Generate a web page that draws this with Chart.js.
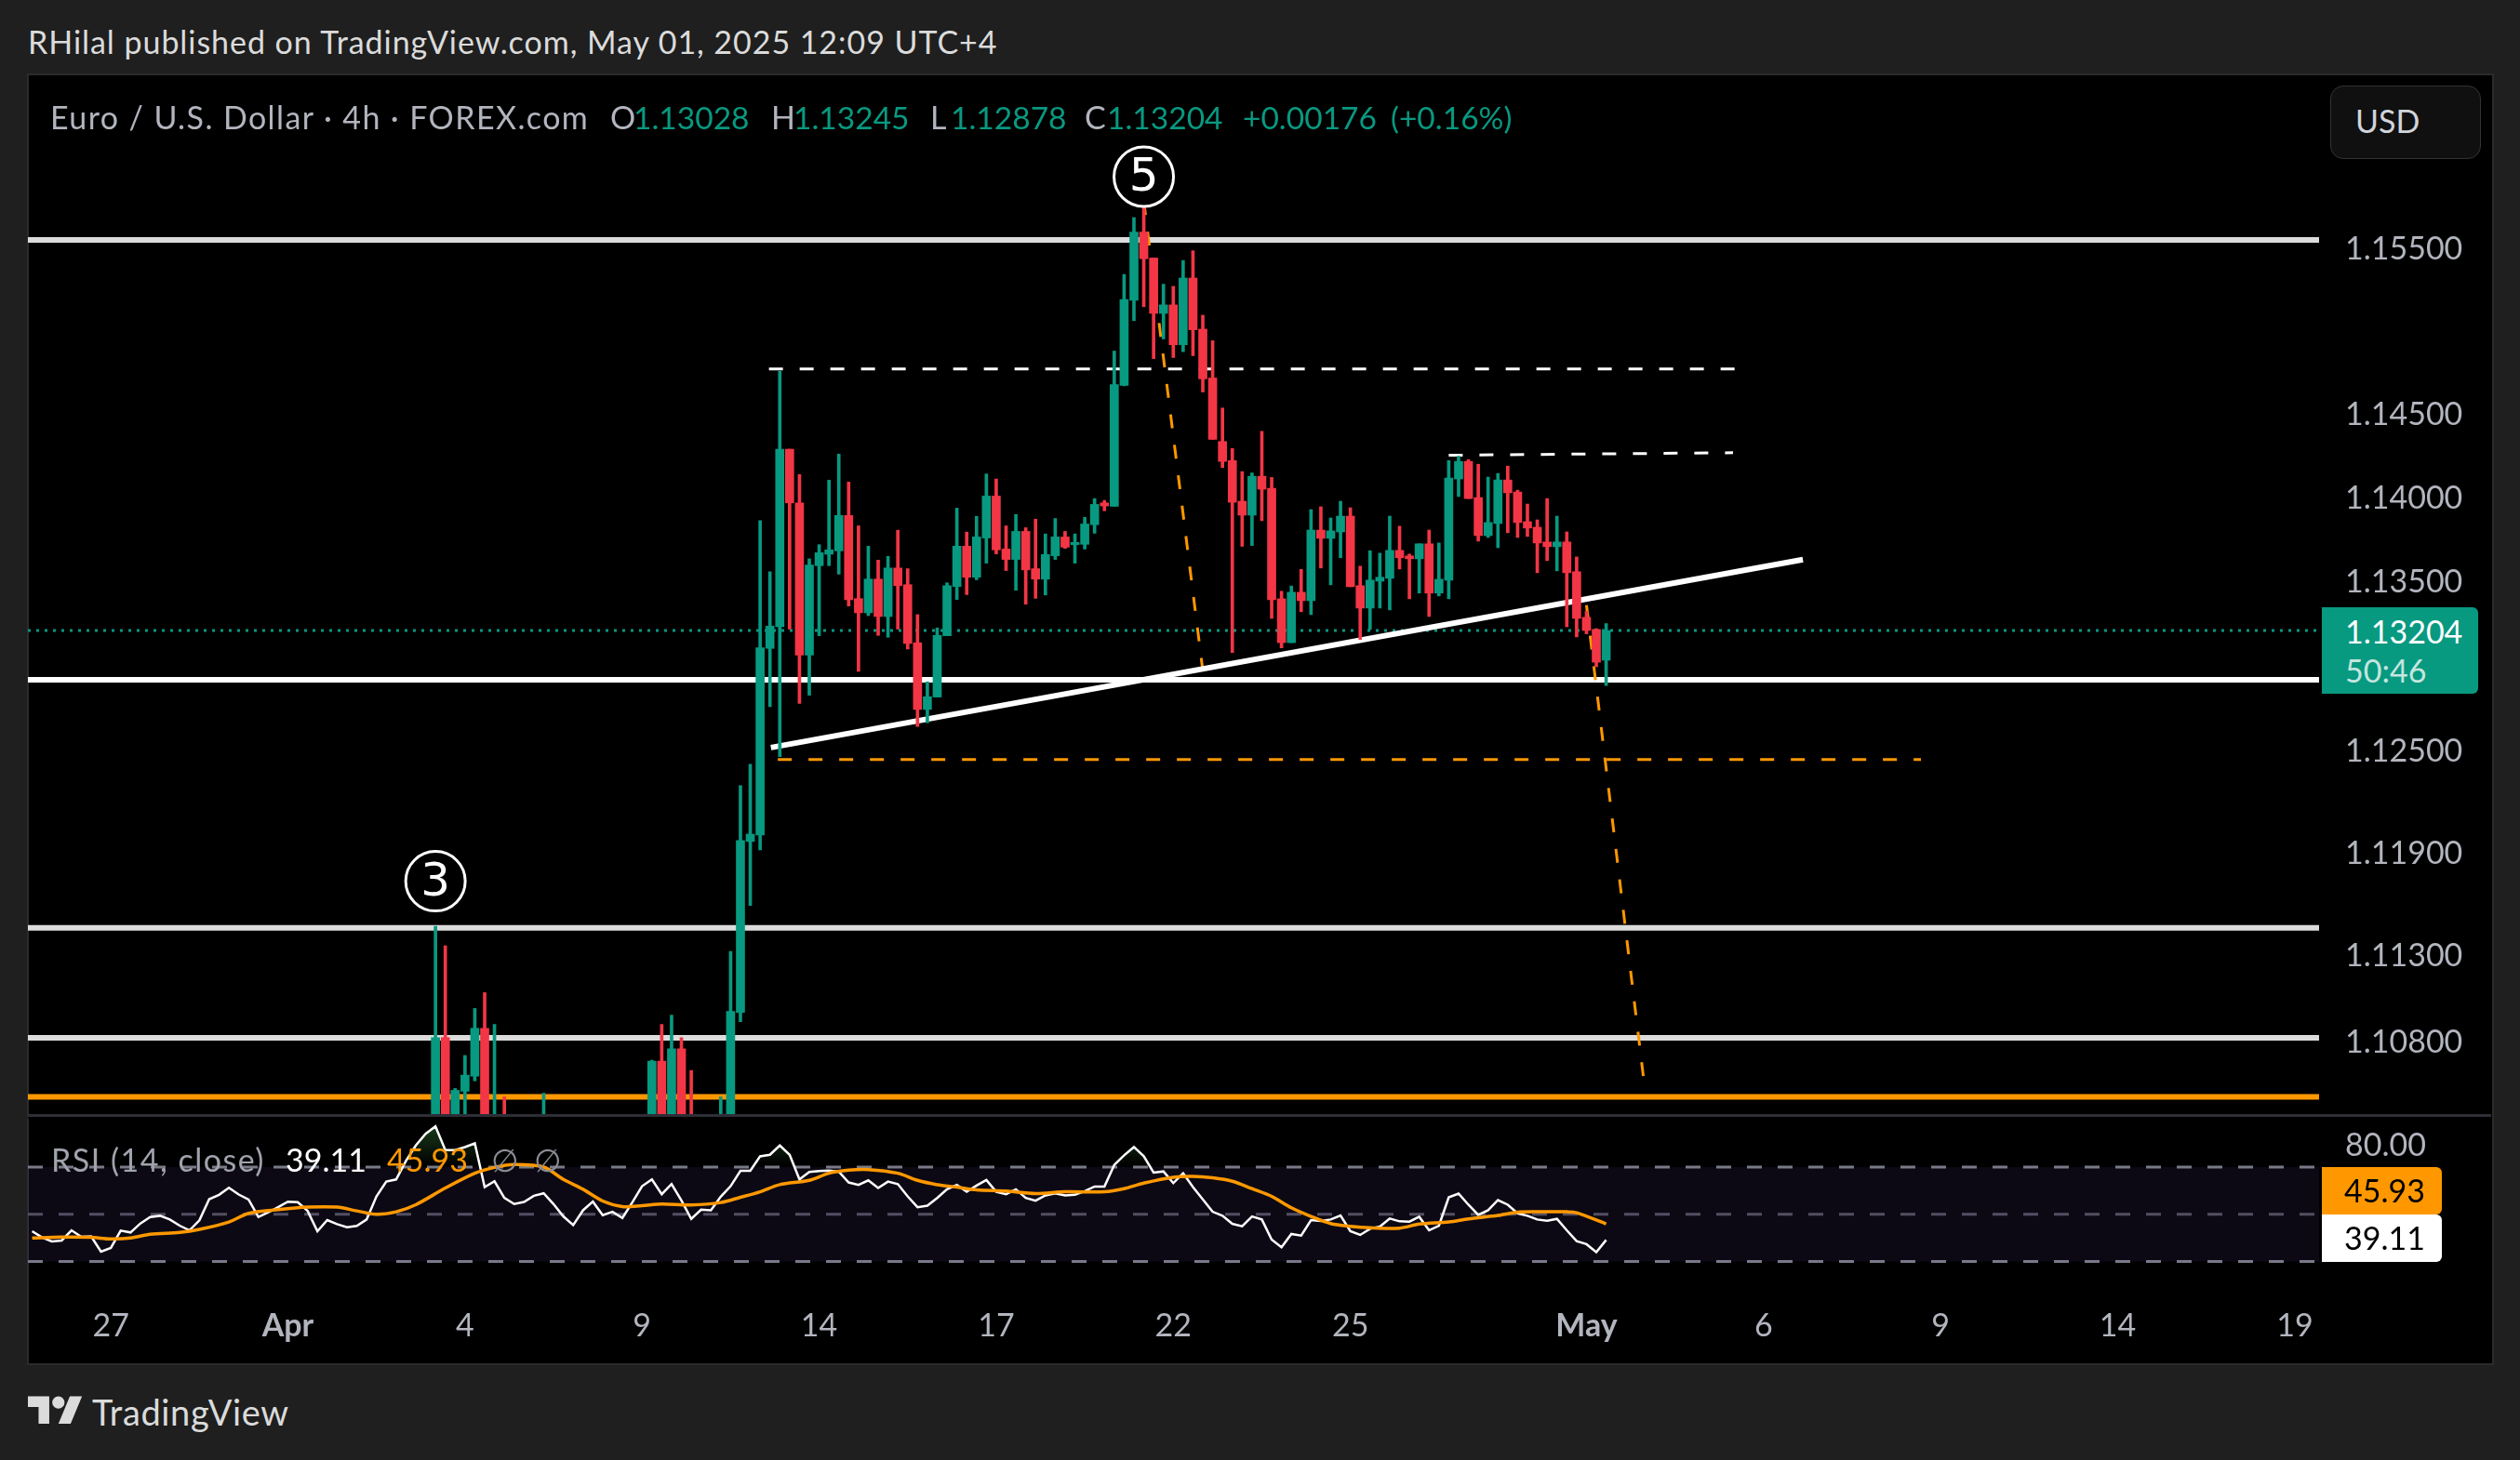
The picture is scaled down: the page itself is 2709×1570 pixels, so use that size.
<!DOCTYPE html>
<html>
<head>
<meta charset="utf-8">
<title>EURUSD 4h</title>
<script src="https://cdn.jsdelivr.net/npm/chart.js@4/dist/chart.umd.min.js"></script>
<style>
  html, body { margin: 0; padding: 0; background: #1f1f1f; overflow: hidden; }
  body { width: 2709px; height: 1570px; position: relative; font-family: Lato, sans-serif; font-size: 34px; color: #b2b5be; }
  .t { position: absolute; white-space: nowrap; line-height: 40px; }
  .ls { letter-spacing: 1.4px; }
  .g { color: #089981; font-size: 33.5px; }
  #panel { position: absolute; left: 29px; top: 79px; width: 2648px; height: 1385px; background: #000; border: 2px solid #2b2b2b; }
  #priceCanvas { position: absolute; left: 30px; top: 81px; }
  #rsiCanvas { position: absolute; left: 30px; top: 1203px; }
  #divider { position: absolute; left: 30px; top: 1198px; width: 2648px; height: 3px; background: #2e2e38; }
  #mask { position: absolute; left: 30px; top: 1201px; width: 2648px; height: 2px; background: #000; }
  #usd { position: absolute; left: 2505px; top: 92px; width: 160px; height: 77px; border: 1px solid #333; border-radius: 14px; background: #101010; }
  .box { position: absolute; left: 2496px; width: 129px; height: 51px; }
</style>
</head>
<body>
<div class="t" id="publisher" style="left:30px;top:25px;color:#dbdbdb;letter-spacing:0.95px">RHilal published on TradingView.com, May 01, 2025 12:09 UTC+4</div>
<div id="panel"></div>
<canvas id="priceCanvas" width="2648" height="1119"></canvas>
<canvas id="rsiCanvas" width="2648" height="263"></canvas>
<div id="mask"></div>
<div id="divider"></div>

<div class="t ls" style="left:54px;top:106px">Euro / U.S. Dollar · 4h · FOREX.com</div>
<div class="t" style="left:656px;top:106px">O</div><div class="t g" style="left:681px;top:106px">1.13028</div>
<div class="t" style="left:829px;top:106px">H</div><div class="t g" style="left:853px;top:106px">1.13245</div>
<div class="t" style="left:1000px;top:106px">L</div><div class="t g" style="left:1022px;top:106px">1.12878</div>
<div class="t" style="left:1166px;top:106px">C</div><div class="t g" style="left:1190px;top:106px">1.13204</div>
<div class="t g" style="left:1336px;top:106px">+0.00176</div><div class="t g" style="left:1495px;top:106px">(+0.16%)</div>

<div id="usd"></div>
<div class="t" style="left:2532px;top:110px;color:#d1d4dc">USD</div>

<div style="position:absolute;left:2496px;top:653px;width:168px;height:93px;background:#089981;border-radius:0 6px 6px 0"></div>
<div class="t" style="left:2521px;top:659px;color:#fff">1.13204</div>
<div class="t" style="left:2521px;top:701px;color:#c4e6df">50:46</div>

<div class="t" style="left:55px;top:1227px;color:#a0a3ac;letter-spacing:1.5px">RSI (14, close)</div>
<div class="t" style="left:307px;top:1227px;color:#fff">39.11</div>
<div class="t" style="left:416px;top:1227px;color:#ff9800">45.93</div>
<div class="t" style="left:528px;top:1227px;color:#8a8d96">∅</div>
<div class="t" style="left:574px;top:1227px;color:#8a8d96">∅</div>

<div class="box" style="top:1255px;background:#ff9800;border-radius:0 6px 6px 0"></div>
<div class="t" style="left:2520px;top:1260px;color:#000">45.93</div>
<div class="box" style="top:1306px;background:#fff;border-radius:0 6px 6px 0"></div>
<div class="t" style="left:2520px;top:1311px;color:#000">39.11</div>

<svg style="position:absolute;left:30px;top:1495px" width="59" height="46" viewBox="0 0 36 28">
  <path fill="#dbdbdb" d="M14 22H7V11H0V4h14v18zM28 22h-8l7.5-18h8L28 22z"/><circle fill="#dbdbdb" cx="20" cy="8" r="4"/>
</svg>
<div class="t" style="left:99px;top:1498px;color:#dbdbdb;font-size:38px;letter-spacing:0.6px">TradingView</div>

<script>
// bar index 0 = 1 Apr 00:00, one bar every 4h, bars start at 15
const firstBar = 15;
const opens = [
  1.09900,1.10816,1.10374,1.10505,1.10592,1.10870,1.10150,1.10330,1.10000,1.10100,
  1.09950,1.09600,1.09900,1.09800,1.09600,1.09500,1.09700,1.09900,1.09700,1.09500,
  1.09400,1.09700,1.09650,1.10679,1.09850,1.10750,1.10000,1.09900,1.10000,1.10000,
  1.10100,1.10962,1.11960,1.11998,1.13098,1.13226,1.14284,1.13963,1.13058,1.13589,
  1.13657,1.13677,1.13888,1.13393,1.13309,1.13509,1.13287,1.13575,1.13476,1.13131,
  1.12737,1.12810,1.13173,1.13465,1.13705,1.13520,1.13754,1.14004,1.13688,1.13626,
  1.13793,1.13571,1.13509,1.13648,1.13760,1.13714,1.13716,1.13833,1.13963,1.13943,
  1.14667,1.15179,1.15591,1.15434,1.15100,1.15151,1.14911,1.15313,1.15005,1.14711,
  1.14330,1.14216,1.13973,1.13890,1.14122,1.14050,1.13392,1.13132,1.13431,1.13381,
  1.13801,1.13752,1.13790,1.13884,1.13470,1.13337,1.13497,1.13514,1.13680,1.13647,
  1.13630,1.13719,1.13426,1.13503,1.14106,1.14211,1.13995,1.13768,1.13840,1.14100,
  1.14028,1.13851,1.13818,1.13730,1.13702,1.13730,1.13553,1.13282,1.13210,1.13028
];
const highs = [
  1.11464,1.11350,1.10521,1.10712,1.10985,1.11077,1.10892,1.10472,1.10250,1.10300,
  1.10200,1.10494,1.10100,1.10000,1.09900,1.09800,1.10000,1.10100,1.09900,1.09700,
  1.09800,1.10100,1.10685,1.10892,1.10946,1.10816,1.10625,1.10200,1.10300,1.10472,
  1.11317,1.12288,1.12414,1.13857,1.13553,1.14752,1.14284,1.14132,1.13630,1.13714,
  1.14099,1.14255,1.14088,1.13826,1.13705,1.13622,1.13644,1.13800,1.13571,1.13298,
  1.12900,1.13219,1.13487,1.13932,1.13789,1.13883,1.14136,1.14106,1.13826,1.13894,
  1.13815,1.13866,1.13778,1.13870,1.13793,1.13778,1.13877,1.13989,1.13978,1.14873,
  1.15335,1.15679,1.15778,1.15434,1.15276,1.15263,1.15419,1.15478,1.15089,1.14935,
  1.14531,1.14288,1.14150,1.14142,1.14391,1.14115,1.13437,1.13468,1.13567,1.13923,
  1.13940,1.13873,1.13973,1.13934,1.13586,1.13678,1.13663,1.13884,1.13824,1.13658,
  1.13719,1.13801,1.13724,1.14216,1.14242,1.14222,1.14194,1.14117,1.14139,1.14183,
  1.14039,1.13956,1.13862,1.13989,1.13884,1.13790,1.13641,1.13317,1.13215,1.13245
];
const lows = [
  1.09800,1.10300,1.10300,1.10250,1.10565,1.10000,1.10050,1.09900,1.09850,1.09900,
  1.09700,1.09500,1.09700,1.09500,1.09400,1.09300,1.09500,1.09600,1.09400,1.09200,
  1.09300,1.09500,1.09500,1.09750,1.09700,1.09600,1.09700,1.09700,1.09800,1.09900,
  1.10000,1.10908,1.11585,1.11910,1.12753,1.12459,1.13212,1.12772,1.12821,1.13173,
  1.13589,1.13538,1.13349,1.12962,1.13292,1.13175,1.13164,1.13212,1.13094,1.12636,
  1.12658,1.12810,1.13173,1.13388,1.13417,1.13505,1.13604,1.13659,1.13560,1.13443,
  1.13360,1.13395,1.13415,1.13626,1.13692,1.13604,1.13688,1.13782,1.13916,1.13943,
  1.14664,1.15056,1.15140,1.14827,1.14946,1.14834,1.14869,1.14845,1.14627,1.14343,
  1.14174,1.13073,1.13704,1.13709,1.13857,1.13276,1.13101,1.13132,1.13315,1.13298,
  1.13575,1.13475,1.13636,1.13464,1.13151,1.13210,1.13337,1.13326,1.13569,1.13392,
  1.13426,1.13287,1.13409,1.13392,1.14001,1.13989,1.13735,1.13757,1.13696,1.13785,
  1.13757,1.13763,1.13547,1.13619,1.13558,1.13226,1.13166,1.13184,1.12989,1.12878
];
const closes = [
  1.10816,1.10374,1.10510,1.10598,1.10870,1.10150,1.10330,1.10000,1.10100,1.09950,
  1.09800,1.09900,1.09800,1.09600,1.09500,1.09700,1.09900,1.09700,1.09500,1.09400,
  1.09700,1.09600,1.10679,1.09850,1.10750,1.09750,1.09900,1.10000,1.10100,1.10250,
  1.10968,1.11965,1.12003,1.13102,1.13230,1.14284,1.13963,1.13058,1.13593,1.13666,
  1.13683,1.13888,1.13386,1.13309,1.13509,1.13287,1.13575,1.13470,1.13127,1.12737,
  1.12812,1.13175,1.13470,1.13705,1.13520,1.13760,1.14004,1.13683,1.13626,1.13793,
  1.13564,1.13509,1.13655,1.13760,1.13699,1.13727,1.13837,1.13954,1.13945,1.14671,
  1.15184,1.15591,1.15430,1.15100,1.15151,1.14911,1.15313,1.15001,1.14706,1.14343,
  1.14211,1.13967,1.13890,1.14122,1.14045,1.13387,1.13132,1.13431,1.13381,1.13801,
  1.13752,1.13796,1.13884,1.13464,1.13337,1.13503,1.13520,1.13680,1.13636,1.13630,
  1.13719,1.13426,1.13508,1.14111,1.14211,1.13989,1.13768,1.13846,1.14100,1.14023,
  1.13846,1.13813,1.13724,1.13702,1.13730,1.13547,1.13276,1.13204,1.13016,1.13204
];

const priceTicks = [1.108, 1.113, 1.119, 1.125, 1.135, 1.14, 1.145, 1.155];
const timeTickBars = [-18, 0, 18, 36, 54, 72, 90, 108, 132, 150, 168, 186, 204];
const timeTickLabels = ["27", "Apr", "4", "9", "14", "17", "22", "25", "May", "6", "9", "14", "19"];

// RSI starts further left than the visible candles
const rsiFirstBar = -26;
const rsiValues = [
  42.81,40.20,38.50,38.89,43.20,40.46,40.59,34.18,35.75,43.07,42.29,46.08,48.83,49.35,47.78,45.17,43.20,47.39,56.41,58.24,
  61.24,58.37,56.28,48.83,50.79,53.01,55.36,55.10,51.44,42.81,47.52,45.82,44.51,45.03,47.78,57.58,63.86,64.77,72.62,79.15,
  84.12,87.26,77.19,77.19,78.50,80.07,61.51,63.99,56.93,54.32,55.23,57.84,58.89,54.32,49.09,45.43,51.70,55.36,49.61,51.05,
  48.43,54.97,61.90,64.77,58.50,62.81,55.88,48.04,51.96,51.70,57.45,61.90,68.43,68.43,74.58,75.23,79.15,75.23,64.77,67.91,
  68.30,68.56,68.04,63.47,62.42,64.38,61.11,63.86,62.81,57.58,53.01,53.66,56.93,60.59,62.42,59.54,62.16,64.51,59.54,58.50,
  60.59,56.93,55.75,57.98,58.89,57.98,58.24,59.81,61.77,61.77,70.92,74.97,78.50,74.58,67.65,68.17,63.20,67.39,61.51,56.28,
  51.05,49.35,45.95,44.90,49.09,47.78,39.28,36.01,41.64,40.98,47.52,47.13,47.78,49.48,42.81,41.24,43.86,44.77,48.17,47.00,
  46.86,48.96,43.20,45.17,57.19,58.76,54.05,49.74,51.70,56.01,54.05,50.39,49.35,47.78,47.26,48.04,43.20,38.63,37.32,33.92,39.11
];
const rsiMaBars = [-26,-23,-20,-18,-16,-14,-11,-9,-6,-4,-1,2,5,7,9,11,13,16,19,21,23,26,28,30,32,34,36,38,41,44,46,48,50,53,55,57,59,62,64,66,68,70,73,76,79,83,85,87,90,92,94,96,98,100,102,104,106,108,110,113,115,118,120,123,125,128,130,131,134];
const rsiMaValues = [39.94,40.33,40.20,39.54,39.94,41.51,42.29,43.60,46.73,50.39,51.96,53.01,53.01,51.44,50.00,51.05,54.05,61.11,67.39,69.87,71.05,70.00,64.77,60.59,55.62,53.27,53.66,54.32,53.92,54.97,57.19,59.54,62.55,64.38,67.39,68.69,68.96,67.39,64.38,62.55,61.51,60.33,59.81,58.76,59.54,59.54,60.85,63.20,65.69,66.08,65.43,63.99,60.85,57.58,52.75,49.09,46.08,44.90,44.25,44.12,45.82,46.73,48.04,49.48,50.92,51.05,51.05,50.66,45.93];
const rsiBands = [70, 50, 30];

// hand drawn levels on the price pane
const solidLevels = [1.15544, 1.12912, 1.11454, 1.10815, 1.10472];
const solidColors = ["#dcdcdc", "#ffffff", "#dcdcdc", "#dcdcdc", "#ff9800"];
const lastPrice = 1.13204;
const trendBars = [49.1, 154], trendPrices = [1.12512, 1.13625];
const topDashBars = [48.9, 147.4], topDashPrices = [1.14766, 1.14766];
const midDashBars = [118, 146.9], midDashPrices = [1.14248, 1.14263];
const supportDashBars = [49.8, 166], supportDashPrices = [1.12441, 1.12441];
const drop1Bars = [87, 93], drop1Prices = [1.15778, 1.12966];
const drop2Bars = [132, 137.8], drop2Prices = [1.13354, 1.10581];
const waveBars = [15, 87], wavePrices = [1.11727, 1.15927], waveLabels = ["3", "5"];

const xMin = -26.43, xMax = 206.47;
const upColor = "#089981", downColor = "#f23645";
const tickFont = { family: "Lato", size: 34 };

const bars = opens.map((o, i) => firstBar + i);
const candleColors = opens.map((o, i) => closes[i] >= o ? upColor : downColor);

function pairLine(xs, ys, color, width, dash, order) {
    return {
        type: "line",
        data: xs.map((x, i) => ({ x: x, y: ys[i] })),
        borderColor: color,
        borderWidth: width,
        borderDash: dash || [],
        pointRadius: 0,
        order: order
    };
}

const priceDatasets = [
    {
        type: "bar",
        data: bars.map((x, i) => ({ x: x, y: [Math.min(opens[i], closes[i]), Math.max(opens[i], closes[i])] })),
        backgroundColor: candleColors,
        barThickness: 9,
        grouped: false,
        order: 0
    },
    {
        type: "bar",
        data: bars.map((x, i) => ({ x: x, y: [lows[i], highs[i]] })),
        backgroundColor: candleColors,
        barThickness: 3,
        grouped: false,
        order: 1
    },
    pairLine(trendBars, trendPrices, "#ffffff", 6, null, 3),
    pairLine(topDashBars, topDashPrices, "#ffffff", 3, [15, 18], 4),
    pairLine(midDashBars, midDashPrices, "#ffffff", 3, [15, 18], 4),
    pairLine(supportDashBars, supportDashPrices, "#ff9800", 3, [15, 18], 4),
    pairLine(drop1Bars, drop1Prices, "#ff9800", 3, [15, 18], 4),
    pairLine(drop2Bars, drop2Prices, "#ff9800", 3, [15, 18], 4),
    pairLine([xMin, xMax], [lastPrice, lastPrice], upColor, 3, [3, 6], 5)
];
solidLevels.forEach((level, i) => {
    priceDatasets.push(pairLine([xMin, xMax], [level, level], solidColors[i], 6, null, 6));
});

const waveCircles = {
    id: "waveCircles",
    afterDatasetsDraw(chart) {
        const c = chart.ctx;
        waveBars.forEach((bar, i) => {
            const x = chart.scales.x.getPixelForValue(bar);
            const y = chart.scales.y.getPixelForValue(wavePrices[i]);
            c.save();
            c.beginPath();
            c.arc(x, y, 32, 0, Math.PI * 2);
            c.fillStyle = "#000";
            c.fill();
            c.lineWidth = 3;
            c.strokeStyle = "#fff";
            c.stroke();
            c.fillStyle = "#fff";
            c.font = "50px 'DejaVu Sans'";
            c.textAlign = "center";
            c.textBaseline = "middle";
            c.fillText(waveLabels[i], x, y + 2);
            c.restore();
        });
    }
};

new Chart(document.getElementById("priceCanvas"), {
    data: { datasets: priceDatasets },
    plugins: [waveCircles],
    options: {
        responsive: false,
        animation: false,
        events: [],
        layout: { padding: 0 },
        plugins: { legend: { display: false }, tooltip: { enabled: false } },
        scales: {
            x: { type: "linear", min: xMin, max: xMax, display: false, offset: false },
            y: {
                type: "logarithmic",
                position: "right",
                min: 1.10362,
                max: 1.16544,
                grid: { display: false },
                border: { display: false },
                afterBuildTicks: (s) => { s.ticks = priceTicks.map((v) => ({ value: v })); },
                afterFit: (s) => { s.width = 185; s.paddingTop = 0; s.paddingBottom = 0; },
                ticks: {
                    color: "#b2b5be",
                    font: tickFont,
                    padding: 20,
                    labelOffset: 2,
                    autoSkip: false,
                    crossAlign: "near",
                    callback: (v) => v.toFixed(5)
                }
            }
        }
    }
});

const rsiCanvas = document.getElementById("rsiCanvas");
const overbought = rsiCanvas.getContext("2d").createLinearGradient(0, 7, 0, 50);
overbought.addColorStop(0, "rgba(76,175,80,0.35)");
overbought.addColorStop(1, "rgba(76,175,80,0)");

const rsiDatasets = [
    {
        type: "line",
        data: rsiValues.map((v, i) => ({ x: rsiFirstBar + i, y: v })),
        borderColor: "#ffffff",
        borderWidth: 2.5,
        pointRadius: 0,
        tension: 0,
        fill: { target: { value: 70 }, above: overbought, below: "transparent" },
        order: 1
    },
    {
        type: "line",
        data: rsiMaBars.map((x, i) => ({ x: x, y: rsiMaValues[i] })),
        borderColor: "#ff9800",
        borderWidth: 3.5,
        pointRadius: 0,
        tension: 0.3,
        order: 0
    },
    Object.assign(pairLine([xMin, xMax], [rsiBands[0], rsiBands[0]], "#787b86", 3, [16, 17], 3), { fill: { target: "+2" }, backgroundColor: "rgba(126,87,194,0.1)" }),
    pairLine([xMin, xMax], [rsiBands[1], rsiBands[1]], "#4e4e58", 3, [16, 17], 3),
    pairLine([xMin, xMax], [rsiBands[2], rsiBands[2]], "#787b86", 3, [16, 17], 3)
];

new Chart(rsiCanvas, {
    data: { datasets: rsiDatasets },
    options: {
        responsive: false,
        animation: false,
        events: [],
        layout: { padding: 0 },
        plugins: { legend: { display: false }, tooltip: { enabled: false } },
        scales: {
            x: {
                type: "linear",
                min: xMin,
                max: xMax,
                grid: { display: false },
                border: { display: false },
                afterBuildTicks: (s) => { s.ticks = timeTickBars.map((v) => ({ value: v })); },
                afterFit: (s) => { s.height = 70; s.paddingLeft = 0; s.paddingRight = 0; },
                ticks: {
                    color: "#b2b5be",
                    font: (ctx) => ({ family: "Lato", size: 34, weight: (ctx.tick && (ctx.tick.value === 0 || ctx.tick.value === 132)) ? "bold" : "normal" }),
                    padding: 2,
                    autoSkip: false,
                    maxRotation: 0,
                    callback: (v) => timeTickLabels[timeTickBars.indexOf(v)]
                }
            },
            y: {
                type: "linear",
                position: "right",
                min: 14.43,
                max: 90.5,
                grid: { display: false },
                border: { display: false },
                afterBuildTicks: (s) => { s.ticks = [{ value: 80 }]; },
                afterFit: (s) => { s.width = 185; s.paddingTop = 0; s.paddingBottom = 0; },
                ticks: {
                    color: "#b2b5be",
                    font: tickFont,
                    padding: 20,
                    labelOffset: 2,
                    autoSkip: false,
                    crossAlign: "near",
                    callback: (v) => v.toFixed(2)
                }
            }
        }
    }
});
</script>
</body>
</html>
